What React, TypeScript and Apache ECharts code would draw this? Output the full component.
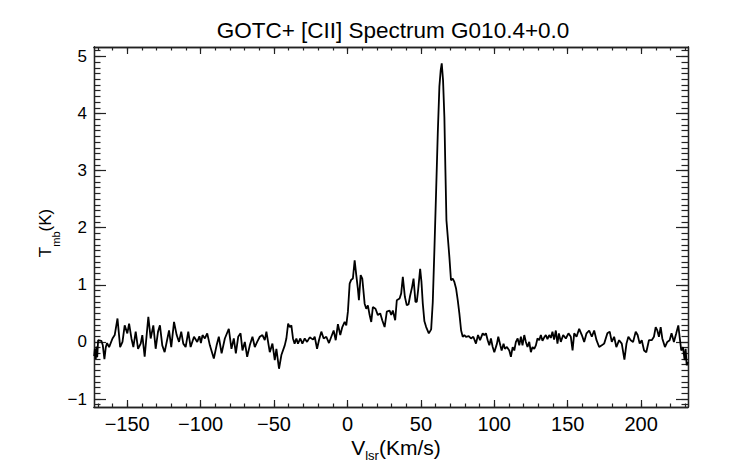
import React, { useEffect, useRef } from "react";
import * as echarts from "echarts";

// ---- data ----
const TITLE = "GOTC+ [CII] Spectrum G010.4+0.0";
const X_MIN = -172.6;
const X_MAX = 231.9;
const Y_MIN = -1.14;
const Y_MAX = 5.165;
const xMajorTicks = [-150, -100, -50, 0, 50, 100, 150, 200];
const yMajorTicks = [-1, 0, 1, 2, 3, 4, 5];

// [velocity (km/s), Tmb (K)]
const spectrum: [number, number][] = [
  [-172.5, -0.25], [-172.0, -0.12], [-171.4, -0.3], [-170.9, -0.08], [-170.4, -0.27], [-169.8, 0.03],
  [-167.6, 0.02], [-166.6, -0.06], [-165.5, -0.3], [-164.6, -0.1], [-163.7, -0.02], [-162.3, -0.09],
  [-160.0, 0.06], [-158.5, 0.12], [-156.6, 0.41], [-154.8, -0.09], [-153.2, 0.0], [-151.7, 0.29],
  [-149.9, 0.15], [-148.7, 0.32], [-147.1, 0.06], [-145.8, -0.09], [-144.2, 0.18], [-142.6, -0.12],
  [-140.8, -0.03], [-139.7, 0.12], [-138.1, -0.26], [-135.6, 0.44], [-134.0, 0.06], [-132.2, 0.29],
  [-130.6, -0.12], [-129.0, 0.18], [-127.7, 0.29], [-126.1, -0.06], [-124.5, -0.18], [-121.5, 0.2],
  [-120.0, -0.09], [-118.1, 0.35], [-116.3, 0.12], [-114.7, 0.0], [-113.2, 0.18], [-111.8, -0.03],
  [-110.2, -0.09], [-108.4, 0.18], [-106.8, -0.09], [-104.5, 0.09], [-102.3, 0.0], [-100.8, 0.1],
  [-99.8, -0.02], [-98.7, 0.12], [-97.1, 0.06], [-95.5, 0.15], [-93.7, -0.06], [-91.0, -0.29],
  [-89.1, -0.06], [-87.6, 0.09], [-85.7, -0.2], [-83.5, 0.06], [-80.8, 0.23], [-79.0, -0.12],
  [-77.4, 0.06], [-76.0, -0.2], [-74.4, 0.09], [-72.8, 0.15], [-71.5, -0.15], [-69.9, 0.0],
  [-68.3, -0.26], [-66.5, -0.06], [-64.7, 0.09], [-63.1, -0.09], [-61.5, 0.0], [-59.7, 0.09],
  [-57.9, 0.12], [-56.3, 0.03], [-55.2, 0.18], [-52.9, -0.18], [-51.1, -0.03], [-49.5, -0.32],
  [-48.4, -0.12], [-46.6, -0.47], [-45.0, -0.23], [-42.7, -0.06], [-41.6, 0.06], [-40.4, 0.32],
  [-39.3, 0.26], [-38.2, 0.29], [-37.1, 0.06], [-36.0, -0.03], [-34.8, 0.06], [-33.7, -0.03],
  [-32.1, 0.06], [-30.7, -0.03], [-29.1, 0.06], [-27.5, 0.0], [-25.7, 0.08], [-23.4, 0.04],
  [-22.3, 0.09], [-20.7, -0.12], [-19.4, 0.03], [-17.8, 0.18], [-16.2, 0.06], [-14.4, 0.09],
  [-12.6, -0.02], [-11.0, 0.09], [-9.4, 0.2], [-8.0, 0.03], [-6.5, 0.31], [-4.9, 0.12],
  [-3.5, 0.26], [-1.9, 0.35], [-0.8, 0.29], [0.3, 0.53], [1.5, 1.02], [2.6, 1.09],
  [3.7, 1.11], [4.9, 1.43], [6.0, 1.17], [7.1, 0.93], [7.8, 0.73], [9.0, 1.17],
  [10.1, 1.11], [11.7, 0.67], [12.8, 0.58], [13.9, 0.64], [15.1, 0.47], [16.2, 0.35],
  [17.3, 0.61], [19.1, 0.58], [20.7, 0.47], [22.3, 0.5], [23.7, 0.38], [25.3, 0.26],
  [26.8, 0.53], [28.7, 0.55], [29.8, 0.47], [30.9, 0.55], [32.5, 0.38], [33.6, 0.73],
  [35.5, 0.76], [36.6, 0.85], [37.7, 1.14], [39.1, 0.79], [40.4, 0.64], [41.6, 0.66],
  [42.6, 0.8], [44.0, 0.96], [45.0, 1.11], [46.3, 0.7], [47.2, 0.7], [48.1, 0.9],
  [49.5, 1.28], [50.4, 1.05], [51.3, 0.67], [52.4, 0.36], [53.6, 0.26], [55.4, 0.15],
  [57.0, 0.22], [58.1, 0.7], [59.2, 1.61], [60.4, 2.66], [61.5, 3.65], [62.6, 4.47],
  [63.5, 4.76], [64.2, 4.88], [65.1, 4.58], [66.0, 3.94], [66.7, 3.01], [67.4, 2.13],
  [68.5, 1.78], [69.4, 1.49], [70.5, 1.08], [71.7, 1.11], [72.8, 1.05], [74.0, 0.93],
  [75.1, 0.73], [76.2, 0.5], [77.4, 0.2], [78.5, 0.09], [79.6, 0.12], [80.7, 0.09],
  [82.6, 0.1], [84.1, 0.06], [85.7, 0.09], [87.5, -0.03], [88.9, 0.12], [90.3, 0.03],
  [92.1, 0.15], [93.2, 0.12], [94.3, 0.15], [95.5, 0.03], [96.6, -0.06], [97.7, 0.06],
  [98.9, -0.09], [100.0, -0.18], [101.8, -0.03], [102.7, 0.09], [104.1, -0.06], [105.0, -0.15],
  [106.3, -0.03], [107.2, -0.12], [108.6, -0.09], [110.2, -0.15], [111.3, -0.26], [112.5, -0.09],
  [113.6, -0.15], [114.7, 0.0], [115.9, 0.06], [117.0, -0.06], [118.1, 0.09], [119.2, -0.06],
  [120.4, 0.12], [121.5, 0.0], [122.6, -0.09], [123.8, 0.0], [124.9, -0.18], [126.0, -0.09],
  [127.2, -0.12], [128.3, -0.06], [129.4, 0.06], [130.6, 0.03], [131.7, 0.12], [132.8, 0.02],
  [134.0, 0.08], [135.1, 0.12], [136.2, 0.05], [137.4, 0.12], [138.5, 0.07], [139.6, 0.18],
  [140.7, 0.04], [141.9, 0.2], [143.0, -0.03], [144.0, 0.15], [145.3, 0.0], [146.9, 0.12],
  [148.7, 0.06], [150.5, 0.15], [152.1, 0.09], [153.3, -0.15], [154.4, 0.15], [156.0, 0.09],
  [157.8, 0.23], [159.6, 0.12], [161.2, 0.0], [162.8, 0.15], [164.6, 0.2], [166.4, 0.09],
  [168.0, 0.2], [169.6, 0.03], [171.4, -0.09], [173.2, -0.06], [174.8, -0.03], [177.0, 0.15],
  [178.6, 0.18], [180.0, 0.0], [181.6, 0.09], [183.1, -0.09], [185.0, 0.03], [186.8, -0.03],
  [188.6, -0.31], [190.0, -0.03], [191.3, 0.09], [192.9, 0.03], [194.5, 0.0], [196.3, 0.18],
  [197.6, 0.12], [199.0, -0.03], [200.4, 0.03], [202.0, -0.15], [203.5, -0.18], [205.3, 0.03],
  [207.2, 0.03], [208.7, 0.09], [209.9, 0.26], [211.0, 0.2], [212.1, 0.09], [213.3, 0.26],
  [214.4, 0.06], [216.2, -0.09], [217.8, 0.0], [219.4, 0.03], [220.7, 0.15], [222.3, 0.0],
  [223.9, 0.15], [225.3, 0.29], [226.2, 0.09], [227.3, -0.15], [228.5, -0.09], [229.6, -0.32],
  [230.3, -0.12], [231.0, -0.41], [231.9, -0.35],
];

const FONT = '"Liberation Sans", Arial, Helvetica, sans-serif';

function range(from: number, to: number, step: number): number[] {
  const out: number[] = [];
  for (let v = from; v <= to + 1e-9; v += step) out.push(Math.round(v * 1000) / 1000);
  return out;
}
const xMinorTicks = range(-170, 230, 10);
const yMinorTicks = range(-1.1, 5.1, 0.1);

let measureCtx: CanvasRenderingContext2D | null = null;
function textWidth(text: string, size: number): number {
  if (!measureCtx) measureCtx = document.createElement("canvas").getContext("2d");
  if (!measureCtx) return text.length * size * 0.55;
  measureCtx.font = `${size}px ${FONT}`;
  return measureCtx.measureText(text).width;
}

const minus = (v: number) => String(v).replace("-", "\u2212");
const AXIS_COLOR = "#222";

function xAxisCfg(position: "top" | "bottom", ticks: number[], len: number, labels: boolean) {
  return {
    type: "value",
    position,
    min: X_MIN,
    max: X_MAX,
    axisLine: { show: true, onZero: false, lineStyle: { color: AXIS_COLOR, width: 1.3 } },
    splitLine: { show: false },
    axisTick: { show: true, inside: true, length: len, customValues: ticks, lineStyle: { color: AXIS_COLOR, width: 1.2 } },
    axisLabel: labels
      ? { show: true, customValues: ticks, formatter: minus, fontSize: 20, fontFamily: FONT, color: "#000", margin: 7 }
      : { show: false },
  };
}
function yAxisCfg(position: "left" | "right", ticks: number[], len: number, labels: boolean) {
  return {
    type: "value",
    position,
    min: Y_MIN,
    max: Y_MAX,
    axisLine: { show: true, onZero: false, lineStyle: { color: AXIS_COLOR, width: 1.3 } },
    splitLine: { show: false },
    axisTick: { show: true, inside: true, length: len, customValues: ticks, lineStyle: { color: AXIS_COLOR, width: 1.2 } },
    axisLabel: labels
      ? { show: true, customValues: ticks, formatter: minus, fontSize: 17, fontFamily: FONT, color: "#000", margin: 7 }
      : { show: false },
  };
}

function subscriptTitle(main: string, sub: string, rest: string, size: number, subSize: number, subDrop: number) {
  const w1 = textWidth(main, size);
  const w2 = textWidth(sub, subSize);
  const w3 = textWidth(rest, size);
  const total = w1 + w2 + w3;
  const x0 = -total / 2;
  const mainY = -0.347 * size;
  const subY = subDrop - 0.347 * subSize;
  const mk = (text: string, x: number, y: number, fs: number) => ({
    type: "text",
    x,
    y,
    style: { text, font: `${fs}px ${FONT}`, fill: "#000", textAlign: "left", textVerticalAlign: "middle" },
  });
  return [mk(main, x0, mainY, size), mk(sub, x0 + w1, subY, subSize), mk(rest, x0 + w1 + w2, mainY, size)];
}

export default function App() {
  const ref = useRef<HTMLDivElement>(null);
  useEffect(() => {
    if (!ref.current) return;
    const chart = echarts.init(ref.current, null, { renderer: "svg" });
    const option: any = {
      animation: false,
      backgroundColor: "#fff",
      grid: { left: 94, right: 54, top: 47, bottom: 57, containLabel: false },
      xAxis: [
        xAxisCfg("bottom", xMajorTicks, 7, true),
        xAxisCfg("top", xMajorTicks, 7, false),
        xAxisCfg("bottom", xMinorTicks, 3.5, false),
        xAxisCfg("top", xMinorTicks, 3.5, false),
      ],
      yAxis: [
        yAxisCfg("left", yMajorTicks, 12, true),
        yAxisCfg("right", yMajorTicks, 12, false),
        yAxisCfg("left", yMinorTicks, 6.5, false),
        yAxisCfg("right", yMinorTicks, 6.5, false),
      ],
      series: [
        {
          type: "line",
          xAxisIndex: 0,
          yAxisIndex: 0,
          data: spectrum,
          showSymbol: false,
          symbol: "none",
          clip: true,
          lineStyle: { color: "#000", width: 1.8 },
          silent: true,
        },
      ],
      graphic: [
        {
          type: "text",
          x: 393,
          y: 30,
          style: { text: TITLE, font: `22.5px ${FONT}`, fill: "#000", textAlign: "center", textVerticalAlign: "middle" },
        },
        {
          type: "group",
          x: 396,
          y: 455,
          children: subscriptTitle("V", "lsr", "(Km/s)", 21, 13, 5),
        },
        {
          type: "group",
          x: 51.7,
          y: 233,
          rotation: Math.PI / 2,
          children: subscriptTitle("T", "mb", "(K)", 17, 11, 8),
        },
      ],
    };
    chart.setOption(option);
    return () => chart.dispose();
  }, []);
  return (
    <div
      ref={ref}
      style={{ position: "fixed", left: 0, top: 0, width: 742, height: 464, background: "#fff" }}
    />
  );
}
